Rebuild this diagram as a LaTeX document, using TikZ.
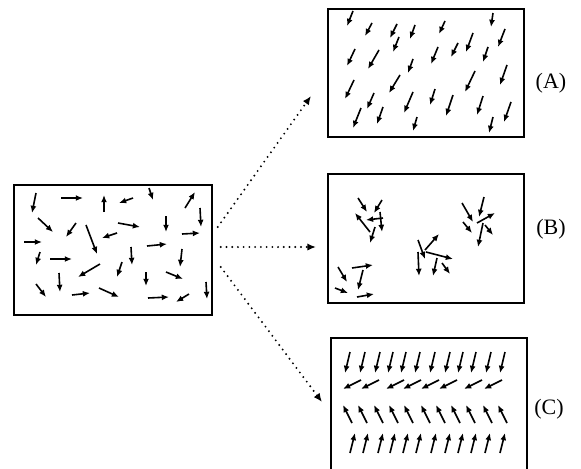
\documentclass[tikz,border=0pt]{standalone}
\usepackage{fontspec}
\setmainfont{Liberation Serif}
\usetikzlibrary{arrows.meta}
\begin{document}
\begin{tikzpicture}[x=0.75pt,y=-0.75pt,
  panel/.style={draw,line width=1.1pt,inner sep=0pt,minimum width=147pt},
  vec/.style={line width=1.2pt,-{Latex[length=5.4pt,width=4.5pt]}},
  flow/.style={line width=1.6pt,line cap=round,dash pattern=on 0pt off 4.3pt,
    -{Latex[length=6.5pt,width=5.5pt]}},
  tag/.style={font=\fontsize{16.5}{19}\selectfont,inner sep=1pt}]
\useasboundingbox (0,0) rectangle (581,468);
\clip (0,0) rectangle (581,468);

% the four panels
\node[panel,minimum width=148.5pt,minimum height=97.5pt] (src) at (113,250) {};
\node[panel,minimum height=96pt] (pa) at (426,73) {};
\node[panel,minimum height=96.75pt] (pb) at (426,238.5) {};
\node[panel,minimum height=100.5pt] (pc) at (429,405) {};

\node[tag] (la) at (551,83) {(A)};
\node[tag] (lb) at (551,229) {(B)};
\node[tag] (lc) at (549,409) {(C)};

% dotted connectors
\coordinate (ea) at (311,96);
\coordinate (eb) at (316,247);
\coordinate (ec) at (322,402);
\draw[flow] ([shift={(5,-23)}]src.east) -- (ea);
\draw[flow] ([shift={(8,-3)}]src.east) -- (eb);
\draw[flow] ([shift={(8,17)}]src.east) -- (ec);

% random orientations
\foreach \a/\b/\c/\d in {
  36/193/32/213, 61/198/83/198, 104/212/104/195, 133/198/119/203,
  149/188/153/200, 185/208/195/192, 200/208/201/227, 38/218/53/232,
  76/223/66/237, 86/225/97/254, 118/223/140/227, 166/216/166/232,
  182/234/200/233, 117/233/102/238, 24/242/42/242, 147/246/167/244,
  40/252/36/265, 50/259/72/259, 131/247/132/265, 182/249/180/267,
  100/264/78/277, 122/262/117/277, 166/272/183/279, 146/272/146/286,
  36/284/46/297, 59/273/60/292, 72/295/90/293, 99/288/119/297,
  148/298/169/297, 189/294/176/302, 206/282/207/299}
  \draw[vec] (\a,\b) -- (\c,\d);

% (A) aligned
\foreach \a/\b/\c/\d in {
  353/11/347/26, 372/23/365/36, 397/24/390/38, 415/25/410/39,
  445/21/439/34, 493/13/491/27, 505/29/498/47, 399/37/393/52,
  355/49/347/66, 379/50/368/69, 413/59/408/73, 438/47/431/64,
  458/43/451/57, 473/33/466/52, 488/47/483/62, 507/65/500/85,
  354/80/345/99, 400/75/389/93, 475/71/465/92, 374/93/367/109,
  413/92/404/113, 435/89/430/105, 453/95/446/116, 483/96/477/115,
  511/102/504/122, 361/108/353/128, 383/107/377/124, 417/117/413/131,
  493/117/489/133}
  \draw[vec] (\a,\b) -- (\c,\d);

% (B) clusters
\foreach \a/\b/\c/\d in {
  358/198/367/212, 382/200/374/213, 370/232/355/213, 383/218/366/220,
  380/212/382/232, 375/227/370/243,
  462/203/473/222, 484/197/479/217, 477/223/495/213, 463/222/472/233,
  483/223/478/247, 485/225/493/235,
  418/240/425/259, 425/250/439/234, 426/252/453/259, 418/252/419/276,
  437/258/433/276, 442/263/450/274,
  338/267/347/282, 352/268/373/265, 363/270/358/290, 335/288/348/293,
  357/297/374/294}
  \draw[vec] (\a,\b) -- (\c,\d);

% (C) rows
\foreach \x in {347,362,377,390,403,417,432,447,460,473,488,502}
  \draw[vec] (\x+3,352) -- (\x-2,373);
\foreach \x in {352,370,395,412,430,448,473,493}
  \draw[vec] (\x+9,380) -- (\x-9,389);
\foreach \x in {347,362,378,393,408,425,440,455,470,487,502}
  \draw[vec] (\x+5,423) -- (\x-4,405);
\foreach \x in {352,365,380,392,405,418,433,447,460,473,487,502}
  \draw[vec] (\x-2,453) -- (\x+3,433);
\end{tikzpicture}
\end{document}
